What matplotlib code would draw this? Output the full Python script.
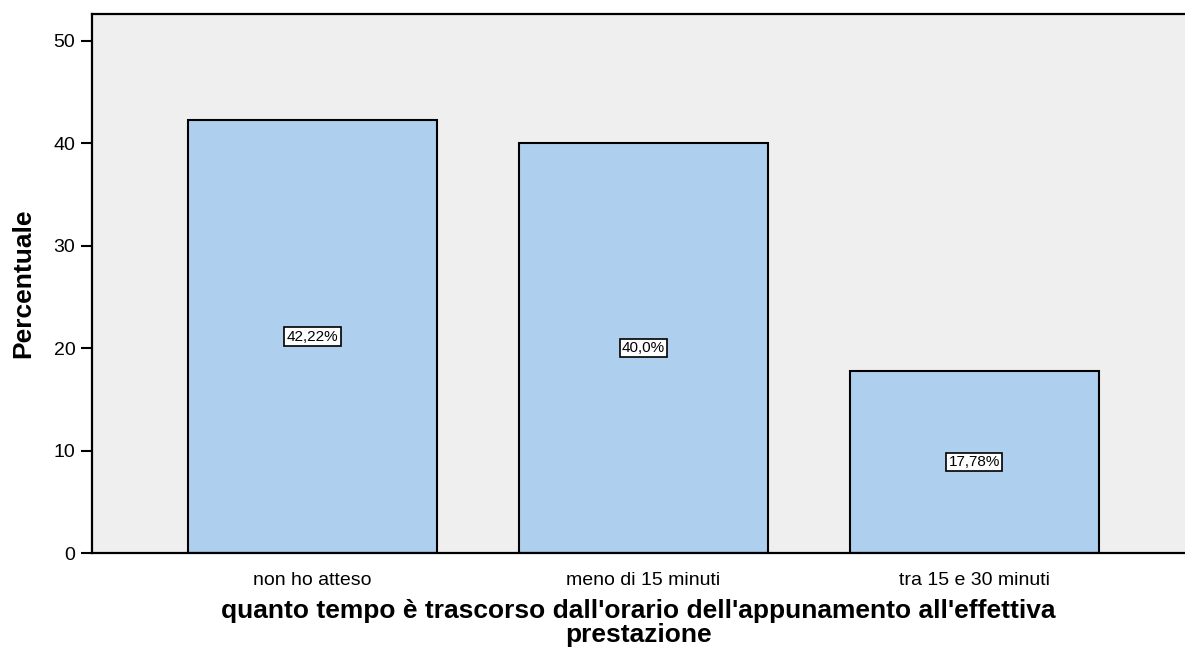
import matplotlib
matplotlib.use('Agg')
import matplotlib.pyplot as plt

plt.rcParams['font.family'] = ['Liberation Sans', 'DejaVu Sans']

categories = ['non ho atteso', 'meno di 15 minuti', 'tra 15 e 30 minuti']
values = [42.22, 40.0, 17.78]
labels = ['42,22%', '40,0%', '17,78%']

fig = plt.figure(figsize=(11.85, 6.5), dpi=100)
ax = fig.add_axes([92/1185, 97/650, 1 - 92/1185, (553 - 14)/650])
ax.set_facecolor('#efefef')

x = list(range(len(categories)))
ax.bar(x, values, width=0.752, color='#aecfee', edgecolor='black', linewidth=1.5, zorder=2)
for xi, v, lab in zip(x, values, labels):
    ax.text(xi, v / 2, lab, ha='center', va='center', fontsize=11, zorder=3,
            bbox=dict(boxstyle='square,pad=0.15', facecolor='white', edgecolor='black', linewidth=1.2))

ax.set_xlim(-0.666, 2.636)
ax.set_ylim(0, 52.6)
ax.set_yticks([0, 10, 20, 30, 40, 50])
ax.set_xticks(x)
ax.set_xticklabels(categories)
ax.tick_params(axis='y', labelsize=14, length=8, width=1.5, pad=4)
ax.tick_params(axis='x', labelsize=14, length=0, pad=14)
for s in ['left', 'top', 'bottom']:
    ax.spines[s].set_linewidth(1.6)
ax.spines['right'].set_visible(False)

ax.set_ylabel('Percentuale', fontsize=19, fontweight='bold',
              family=['Liberation Sans Narrow', 'Liberation Sans'], labelpad=13)
ax.set_xlabel("quanto tempo è trascorso dall'orario dell'appunamento all'effettiva\nprestazione",
              fontsize=19, fontweight='bold', fontstretch='normal',
              family=['Liberation Sans', 'DejaVu Sans'], linespacing=1.0, labelpad=7)

fig.savefig('out.png', dpi=100)
